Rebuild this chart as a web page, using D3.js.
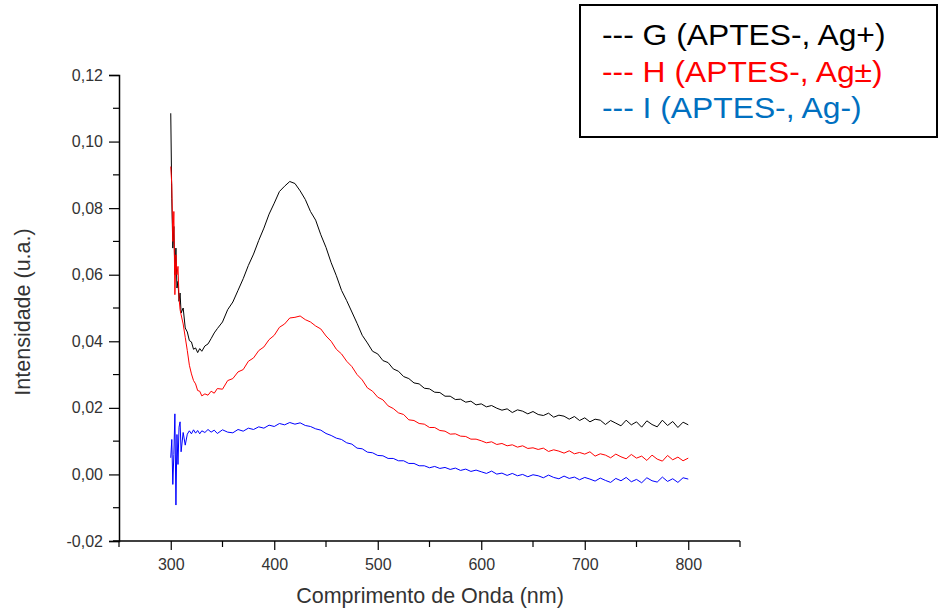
<!DOCTYPE html>
<html>
<head>
<meta charset="utf-8">
<script src="https://cdn.jsdelivr.net/npm/d3@7/dist/d3.min.js"></script>
<style>
  html, body { margin: 0; padding: 0; background: #fff; }
  svg { display: block; font-family: "Liberation Sans", Arial, sans-serif; }
</style>
</head>
<body>
<svg id="chart" width="940" height="612"></svg>
<script>
// Wavelength grid (nm) shared by the three spectra
const wavelengths = [
  300,301,302,303,304,305,306,307,308,309,310,312,314,316,318,320,322,324,326,328,
  330,333,336,339,342,345,350,355,360,365,370,375,380,385,390,395,400,405,410,415,
  420,425,430,435,440,445,450,455,460,465,470,475,480,485,490,495,500,505,510,515,
  520,525,530,535,540,545,550,555,560,565,570,575,580,585,590,595,600,605,610,615,
  620,625,630,635,640,645,650,655,660,665,670,675,680,685,690,695,700,705,710,715,
  720,725,730,735,740,745,750,755,760,765,770,775,780,785,790,795,800
];

// G (APTES-, Ag+)
const seriesG = [
  0.1085,0.0830,0.0680,0.0745,0.0600,0.0680,0.0560,0.0580,0.0520,0.0545,0.0485,0.0500,0.0440,0.0428,0.0402,0.0398,0.0376,0.0380,0.0366,0.0378,
  0.0370,0.0386,0.0392,0.0408,0.0425,0.0438,0.0458,0.0495,0.0518,0.0553,0.0588,0.0628,0.0662,0.0703,0.0740,0.0782,0.0815,0.0850,0.0866,0.0880,
  0.0874,0.0852,0.0826,0.0790,0.0764,0.0720,0.0682,0.0636,0.0597,0.0553,0.0522,0.0488,0.0454,0.0418,0.0395,0.0370,0.0362,0.0342,0.0336,0.0317,
  0.0310,0.0294,0.0288,0.0275,0.0272,0.0259,0.0257,0.0247,0.0246,0.0235,0.0235,0.0225,0.0226,0.0217,0.0220,0.0209,0.0212,0.0203,0.0207,0.0199,
  0.0193,0.0197,0.0186,0.0194,0.0190,0.0182,0.0189,0.0180,0.0177,0.0184,0.0172,0.0178,0.0175,0.0166,0.0174,0.0162,0.0170,0.0158,0.0166,0.0163,
  0.0150,0.0162,0.0154,0.0146,0.0163,0.0149,0.0158,0.0142,0.0161,0.0150,0.0143,0.0163,0.0147,0.0159,0.0141,0.0157,0.0149
];

// H (APTES-, Ag±)
const seriesH = [
  0.0925,0.0870,0.0700,0.0790,0.0540,0.0660,0.0600,0.0625,0.0530,0.0495,0.0480,0.0452,0.0412,0.0372,0.0328,0.0302,0.0282,0.0272,0.0252,0.0250,
  0.0236,0.0242,0.0238,0.0250,0.0244,0.0258,0.0256,0.0282,0.0288,0.0308,0.0315,0.0340,0.0350,0.0372,0.0383,0.0405,0.0418,0.0442,0.0452,0.0470,
  0.0472,0.0476,0.0465,0.0458,0.0446,0.0437,0.0416,0.0400,0.0376,0.0362,0.0340,0.0324,0.0300,0.0284,0.0260,0.0250,0.0232,0.0224,0.0206,0.0198,
  0.0185,0.0180,0.0164,0.0162,0.0153,0.0151,0.0141,0.0141,0.0132,0.0130,0.0121,0.0122,0.0115,0.0114,0.0106,0.0106,0.0101,0.0095,0.0098,0.0090,
  0.0093,0.0086,0.0089,0.0082,0.0086,0.0078,0.0080,0.0075,0.0079,0.0069,0.0074,0.0070,0.0064,0.0071,0.0062,0.0066,0.0061,0.0068,0.0055,0.0062,
  0.0058,0.0050,0.0061,0.0053,0.0047,0.0060,0.0049,0.0055,0.0042,0.0058,0.0046,0.0040,0.0057,0.0044,0.0052,0.0041,0.0049
];

// I (APTES-, Ag-)
const seriesI = [
  0.0050,0.0105,-0.0030,0.0060,0.0182,-0.0092,0.0120,0.0030,0.0142,0.0158,0.0068,0.0126,0.0088,0.0121,0.0131,0.0122,0.0134,0.0124,0.0132,0.0122,
  0.0131,0.0126,0.0135,0.0127,0.0133,0.0123,0.0134,0.0127,0.0125,0.0135,0.0130,0.0139,0.0135,0.0143,0.0139,0.0148,0.0144,0.0153,0.0149,0.0156,
  0.0151,0.0155,0.0147,0.0144,0.0137,0.0133,0.0123,0.0117,0.0109,0.0105,0.0095,0.0091,0.0079,0.0077,0.0067,0.0065,0.0057,0.0056,0.0048,0.0048,
  0.0041,0.0041,0.0033,0.0033,0.0026,0.0026,0.0020,0.0024,0.0018,0.0021,0.0015,0.0019,0.0012,0.0016,0.0009,0.0013,0.0008,0.0003,0.0010,0.0001,
  0.0004,-0.0003,0.0003,-0.0004,0.0000,-0.0007,-0.0001,-0.0004,-0.0010,-0.0002,-0.0009,-0.0013,-0.0005,-0.0012,-0.0008,-0.0016,-0.0009,-0.0014,-0.0020,-0.0011,
  -0.0018,-0.0024,-0.0012,-0.0019,-0.0009,-0.0022,-0.0015,-0.0025,-0.0010,-0.0019,-0.0023,-0.0008,-0.0021,-0.0013,-0.0024,-0.0010,-0.0014
];

const seriesNames = ["G (APTES-, Ag+)", "H (APTES-, Ag\u00b1)", "I (APTES-, Ag-)"];
const lineColors = ["#000000", "#ff0000", "#0000ff"];
const legendColors = ["#000000", "#ff0000", "#0070c0"];

const xTicksMajor = [300, 400, 500, 600, 700, 800];
const xTicksMinor = [250, 350, 450, 550, 650, 750, 850];
const xTickLabels = ["300", "400", "500", "600", "700", "800"];
const yTicksMajor = [-0.02, 0.00, 0.02, 0.04, 0.06, 0.08, 0.10, 0.12];
const yTicksMinor = [-0.01, 0.01, 0.03, 0.05, 0.07, 0.09, 0.11];
const yTickLabels = ["-0,02", "0,00", "0,02", "0,04", "0,06", "0,08", "0,10", "0,12"];

const svg = d3.select("#chart");

const x = d3.scaleLinear().domain([250, 850]).range([119, 740]);
const y = d3.scaleLinear().domain([-0.02, 0.12]).range([541, 75]);

// spectra
const line = d3.line().x(d => x(d.w)).y(d => y(d.v));
[seriesG, seriesH, seriesI].forEach((vals, i) => {
  const pts = wavelengths.map((w, k) => ({ w, v: vals[k] }));
  svg.append("path")
    .datum(pts)
    .attr("fill", "none")
    .attr("stroke", lineColors[i])
    .attr("stroke-width", 1)
    .attr("stroke-linejoin", "round")
    .attr("d", line);
});

// x axis
const xAxisG = svg.append("g").attr("transform", `translate(0,${y.range()[0]})`);
xAxisG.call(d3.axisBottom(x).tickValues(xTicksMajor).tickSize(9).tickPadding(9)
  .tickFormat((d, i) => xTickLabels[i]));
xAxisG.selectAll(".minor").data(xTicksMinor).enter().append("line")
  .attr("class", "minor").attr("x1", d => x(d)).attr("x2", d => x(d))
  .attr("y1", 0).attr("y2", 6).attr("stroke", "#000").attr("stroke-width", 1.2);

// y axis
const yAxisG = svg.append("g").attr("transform", `translate(${x.range()[0]},0)`);
yAxisG.call(d3.axisLeft(y).tickValues(yTicksMajor).tickSize(10).tickPadding(6)
  .tickFormat((d, i) => yTickLabels[i]));
yAxisG.selectAll(".minor").data(yTicksMinor).enter().append("line")
  .attr("class", "minor").attr("y1", d => y(d)).attr("y2", d => y(d))
  .attr("x1", 0).attr("x2", -6).attr("stroke", "#000").attr("stroke-width", 1.2);

[xAxisG, yAxisG].forEach(g => {
  g.select(".domain").attr("stroke", "#000").attr("stroke-width", 1.5);
  g.selectAll(".tick line").attr("stroke", "#000").attr("stroke-width", 1.2);
  g.selectAll(".tick text")
    .attr("fill", "#333")
    .style("font-size", "16px")
    .style("font-family", "'Liberation Sans', Arial, sans-serif");
});
// the x axis line starts just left of the y axis
xAxisG.select(".domain").attr("d", `M${x.range()[0] - 6},0H${x.range()[1]}`);

// axis titles
svg.append("text")
  .attr("x", 430).attr("y", 603)
  .attr("text-anchor", "middle")
  .style("font-size", "21.5px")
  .attr("fill", "#333")
  .text("Comprimento de Onda (nm)");

svg.append("text")
  .attr("transform", "translate(30,312) rotate(-90)")
  .attr("text-anchor", "middle")
  .style("font-size", "21.5px")
  .attr("fill", "#333")
  .text("Intensidade (u.a.)");

// legend
const legend = svg.append("g");
legend.append("rect")
  .attr("x", 580).attr("y", 5).attr("width", 357).attr("height", 132)
  .attr("fill", "#fff").attr("stroke", "#000").attr("stroke-width", 2);
seriesNames.forEach((name, i) => {
  legend.append("text")
    .attr("transform", `translate(602,${45 + i * 36.5}) scale(1.06,1)`)
    .style("font-size", "30px")
    .attr("fill", legendColors[i])
    .text("--- " + name);
});
</script>
</body>
</html>
